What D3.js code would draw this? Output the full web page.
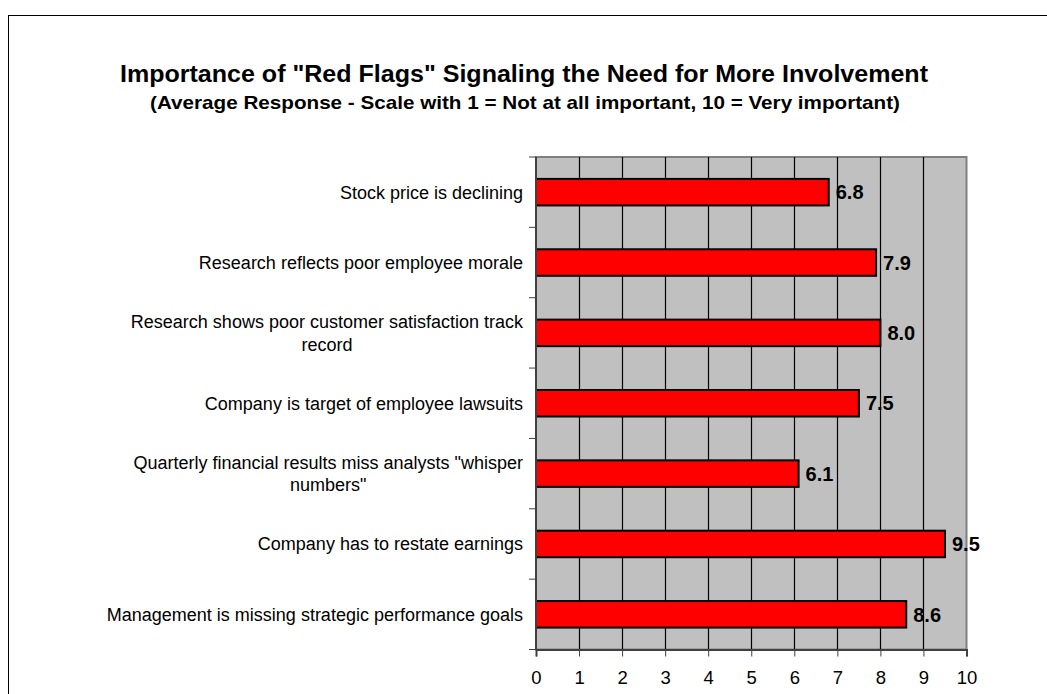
<!DOCTYPE html>
<html>
<head>
<meta charset="utf-8">
<script src="https://cdn.jsdelivr.net/npm/d3@7"></script>
<style>
  body { margin: 0; background: #fff; }
  svg { display: block; font-family: Arial, "Liberation Sans", sans-serif; }
</style>
</head>
<body>
<svg id="chart" width="1047" height="694"></svg>
<script>
// chart data
var categories = [
  "Stock price is declining",
  "Research reflects poor employee morale",
  "Research shows poor customer satisfaction track record",
  "Company is target of employee lawsuits",
  "Quarterly financial results miss analysts \"whisper numbers\"",
  "Company has to restate earnings",
  "Management is missing strategic performance goals"
];
var values = [6.8, 7.9, 8.0, 7.5, 6.1, 9.5, 8.6];
var tickValues = [0, 1, 2, 3, 4, 5, 6, 7, 8, 9, 10];

var title = "Importance of \"Red Flags\" Signaling the Need for More Involvement";
var subtitle = "(Average Response - Scale with 1 = Not at all important, 10 = Very important)";

var svg = d3.select("#chart");

var plotLeft = 536, plotRight = 966.5, plotTop = 157, plotBottom = 649.5;

// outer frame (runs off the right and bottom edge)
svg.append("rect")
  .attr("x", 8.5).attr("y", 15.5)
  .attr("width", 1100).attr("height", 800)
  .attr("fill", "none").attr("stroke", "#000").attr("stroke-width", 1);

svg.append("text")
  .attr("x", 524).attr("y", 82)
  .attr("text-anchor", "middle")
  .attr("font-size", "24px").attr("font-weight", "bold")
  .attr("textLength", 808).attr("lengthAdjust", "spacingAndGlyphs")
  .text(title);

svg.append("text")
  .attr("x", 525).attr("y", 109)
  .attr("text-anchor", "middle")
  .attr("font-size", "18.5px").attr("font-weight", "bold")
  .attr("textLength", 750).attr("lengthAdjust", "spacingAndGlyphs")
  .text(subtitle);

var x = d3.scaleLinear().domain([0, 10]).range([plotLeft, plotRight]);
var y = d3.scaleBand().domain(categories).range([plotTop, plotBottom])
  .paddingInner(0.623).paddingOuter(0.3115);

// plot background
svg.append("rect")
  .attr("x", plotLeft).attr("y", plotTop)
  .attr("width", plotRight - plotLeft).attr("height", plotBottom - plotTop)
  .attr("fill", "#c0c0c0").attr("stroke", "#808080").attr("stroke-width", 2);

// vertical grid
svg.selectAll(".grid")
  .data(tickValues.filter(function(d) { return d > 0 && d < 10; }))
  .enter().append("line")
  .attr("class", "grid")
  .attr("x1", function(d) { return Math.round(x(d)) + 0.5; })
  .attr("x2", function(d) { return Math.round(x(d)) + 0.5; })
  .attr("y1", plotTop).attr("y2", plotBottom)
  .attr("stroke", "#000").attr("stroke-width", 1.2);

// bars
svg.selectAll(".bar")
  .data(values)
  .enter().append("rect")
  .attr("class", "bar")
  .attr("x", x(0))
  .attr("y", function(d, i) { return y(categories[i]); })
  .attr("width", function(d) { return x(d) - x(0); })
  .attr("height", y.bandwidth())
  .attr("fill", "#ff0000")
  .attr("stroke", "#000").attr("stroke-width", 2);

// value labels
svg.selectAll(".val")
  .data(values)
  .enter().append("text")
  .attr("class", "val")
  .attr("x", function(d) { return x(d) + 7; })
  .attr("y", function(d, i) { return y(categories[i]) + y.bandwidth() / 2; })
  .attr("dy", "0.36em")
  .attr("font-size", "20px").attr("font-weight", "bold")
  .text(function(d) { return d.toFixed(1); });

// x axis
var xAxis = d3.axisBottom(x).tickValues(tickValues).tickSize(7).tickPadding(14);
var gx = svg.append("g")
  .attr("transform", "translate(0," + plotBottom + ")")
  .call(xAxis);
gx.select(".domain").attr("stroke", "#404040").attr("stroke-width", 2);
gx.selectAll(".tick line").attr("stroke", "#404040");
gx.selectAll(".tick text").attr("font-size", "18.5px").attr("font-family", "Arial, 'Liberation Sans', sans-serif").attr("fill", "#000");

// y axis line and ticks at category boundaries
var step = y.step();
svg.append("line")
  .attr("x1", plotLeft).attr("x2", plotLeft).attr("y1", plotTop).attr("y2", plotBottom)
  .attr("stroke", "#404040").attr("stroke-width", 2);
svg.selectAll(".ytick")
  .data(d3.range(categories.length + 1))
  .enter().append("line")
  .attr("x1", plotLeft - 7).attr("x2", plotLeft)
  .attr("y1", function(i) { return plotTop + i * step; })
  .attr("y2", function(i) { return plotTop + i * step; })
  .attr("stroke", "#404040").attr("stroke-width", 1);

// category labels, wrapped
var labelX = 523, wrapWidth = 422, lineH = 22.5;
categories.forEach(function(c, i) {
  var cy = y(c) + y.bandwidth() / 2;
  var t = svg.append("text").attr("font-size", "18px").attr("fill", "#000");
  var words = c.split(" "), lines = [], cur = [];
  var probe = t.append("tspan");
  words.forEach(function(w) {
    cur.push(w);
    probe.text(cur.join(" "));
    if (probe.node().getComputedTextLength() > wrapWidth && cur.length > 1) {
      cur.pop();
      lines.push(cur.join(" "));
      cur = [w];
    }
  });
  lines.push(cur.join(" "));
  probe.remove();
  var widths = lines.map(function(l) {
    var p = t.append("tspan").text(l);
    var wd = p.node().getComputedTextLength();
    p.remove();
    return wd;
  });
  var maxW = d3.max(widths);
  var cx = labelX - maxW / 2;
  lines.forEach(function(l, k) {
    t.append("tspan")
      .attr("x", lines.length > 1 ? cx : labelX)
      .attr("text-anchor", lines.length > 1 ? "middle" : "end")
      .attr("y", cy + (k - (lines.length - 1) / 2) * lineH)
      .attr("dy", "0.36em")
      .text(l);
  });
});
</script>
</body>
</html>
